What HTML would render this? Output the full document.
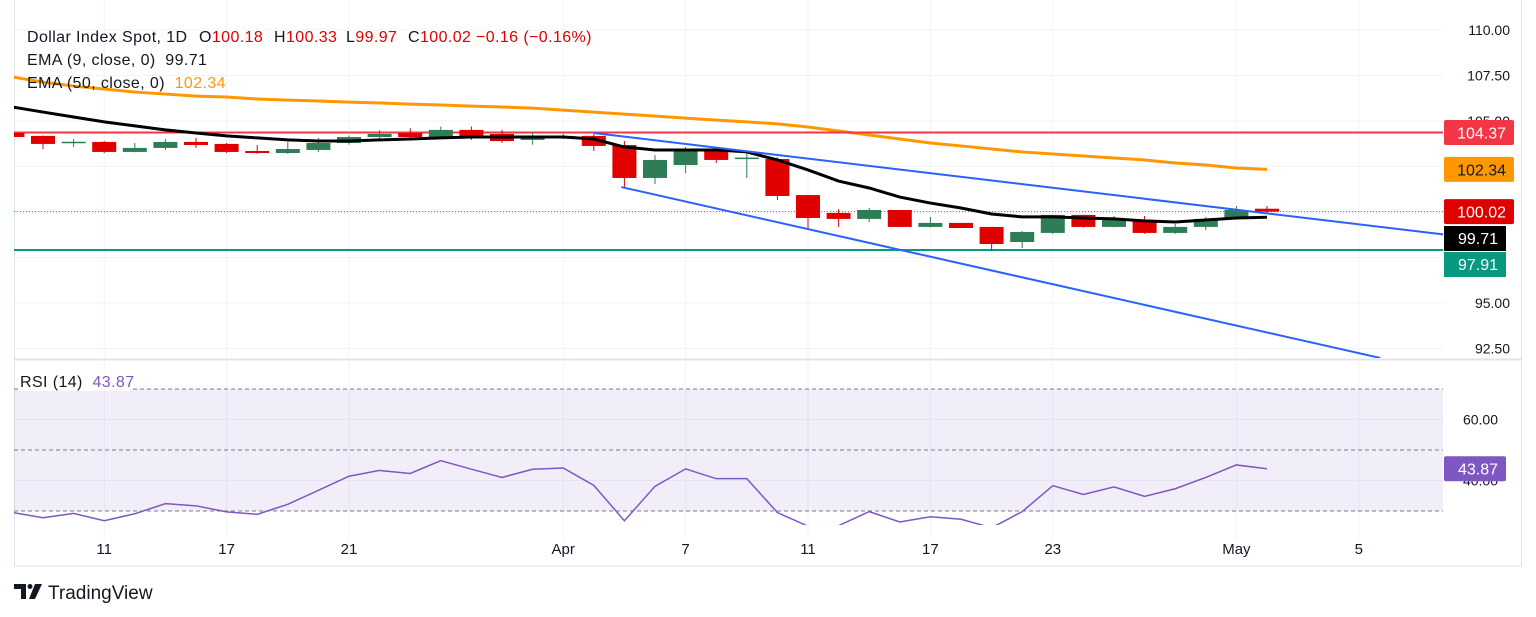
<!DOCTYPE html>
<html><head><meta charset="utf-8"><style>
html,body{margin:0;padding:0;background:#fff;width:1536px;height:617px;overflow:hidden;font-family:"Liberation Sans",sans-serif;}
svg{position:absolute;left:0;top:0}
text{font-family:"Liberation Sans",sans-serif}
.lg{font-size:16px;letter-spacing:0.4px;white-space:pre}
</style></head><body>
<svg id="chart" width="1536" height="617" xmlns="http://www.w3.org/2000/svg"></svg>
<script>
const opens  =[104.34,104.18,103.84,103.85,103.30,103.52,103.85,103.74,103.35,103.24,103.41,103.79,104.12,104.34,104.12,104.51,104.29,103.96,104.12,104.18,103.68,101.87,102.58,103.46,102.95,102.91,100.93,99.95,99.62,100.11,99.18,99.40,99.18,98.35,98.85,99.84,99.18,99.56,98.85,99.18,99.62,100.18];
const highs  =[104.40,104.20,104.01,103.90,103.79,104.01,104.07,103.79,103.68,103.85,104.07,104.20,104.50,104.60,104.70,104.70,104.51,104.40,104.30,104.30,103.90,103.13,103.57,103.50,103.24,103.00,100.95,100.16,100.22,100.11,99.73,99.40,99.18,98.95,99.84,99.85,99.78,99.78,99.34,99.73,100.33,100.33];
const lows   =[104.10,103.46,103.57,103.24,103.28,103.41,103.52,103.24,103.20,103.19,103.30,103.70,103.90,103.95,104.00,103.96,103.80,103.70,104.00,103.35,101.32,101.54,102.14,102.69,101.87,100.66,99.01,99.18,99.45,99.18,99.15,99.12,97.86,98.02,98.79,99.15,99.15,98.80,98.80,99.00,99.60,99.97];
const closes =[104.12,103.74,103.86,103.30,103.52,103.85,103.68,103.30,103.24,103.46,103.79,104.12,104.29,104.12,104.51,104.18,103.90,104.18,104.18,103.63,101.87,102.86,103.46,102.86,102.99,100.88,99.67,99.62,100.11,99.18,99.40,99.12,98.24,98.90,99.84,99.18,99.56,98.85,99.18,99.62,100.11,100.02];
const ema9   =[105.77,105.49,105.22,104.95,104.73,104.51,104.34,104.18,104.07,103.96,103.90,103.90,103.96,104.01,104.07,104.12,104.12,104.12,104.12,104.01,103.57,103.41,103.41,103.41,103.30,102.86,102.31,101.70,101.32,100.82,100.49,100.22,99.89,99.73,99.73,99.67,99.62,99.51,99.45,99.56,99.67,99.71];
const ema50  =[107.42,107.14,106.92,106.76,106.59,106.48,106.37,106.32,106.21,106.15,106.10,106.04,105.99,105.93,105.88,105.82,105.77,105.71,105.60,105.49,105.38,105.27,105.16,105.05,104.95,104.84,104.67,104.45,104.23,104.01,103.79,103.63,103.46,103.30,103.19,103.08,102.97,102.86,102.69,102.58,102.42,102.34];
const rsi    =[29.5,27.8,29.2,26.8,29.1,32.4,31.7,29.7,28.9,32.2,36.8,41.4,43.3,42.3,46.5,43.7,41.0,43.7,44.1,38.4,26.8,38.1,43.8,40.6,40.6,29.5,25.0,25.2,29.8,26.4,28.1,27.3,24.5,29.8,38.3,35.4,37.9,34.8,37.3,41.0,45.1,43.87];
const priceTicks=[110,107.5,105,95,92.5];
const priceTickLabels=["110.00","107.50","105.00","95.00","92.50"];
const rsiTicks=[60,40];
const rsiTickLabels=["60.00","40.00"];
const dateIdx=[3,7,11,18,22,26,30,34,40,44];
const dateLabels=["11","17","21","Apr","7","11","17","23","May","5"];
const upperChannel=[[19,104.34],[49.1,98.30]];
const lowerChannel=[[19.9,101.37],[44.7,91.98]];
const resistance=104.37, support=97.91, lastClose=100.02;

const svg=document.getElementById('chart');
const NS='http://www.w3.org/2000/svg';
function mk(tag,attrs,parent){const e=document.createElementNS(NS,tag);for(const k in attrs)e.setAttribute(k,attrs[k]);(parent||svg).appendChild(e);return e;}
const X=i=>12.4+30.6*i;
const Y=v=>30+(110-v)*18.2;
const RY=v=>450-(v-50)*3.05;
const PL=14,PR=1443;

const defs=mk('defs',{});
const c1=mk('clipPath',{id:'mainclip'},defs);mk('rect',{x:PL,y:0,width:PR-PL,height:358},c1);
const c2=mk('clipPath',{id:'rsiclip'},defs);mk('rect',{x:PL,y:361,width:PR-PL,height:164},c2);

let e=mk('rect',{x:14.5,y:-1,width:1507,height:567,fill:'none',stroke:'#e0e3eb'});

e=mk('line',{x1:14,x2:1522,y1:359.5,y2:359.5,stroke:'#e0e3eb','stroke-width':2});


const grid=mk('g',{stroke:'#f0f3fa'});

dateIdx.forEach(i=>{mk('line',{x1:X(i),x2:X(i),y1:0,y2:358},grid);mk('line',{x1:X(i),x2:X(i),y1:361,y2:540},grid);});
[110,107.5,105,102.5,100,97.5,95,92.5].forEach(v=>mk('line',{x1:PL,x2:PR,y1:Y(v),y2:Y(v)},grid));
[60,40].forEach(v=>mk('line',{x1:PL,x2:PR,y1:RY(v),y2:RY(v)},grid));

const main=mk('g',{'clip-path':'url(#mainclip)'});

e=mk('polyline',{points:ema50.map((v,i)=>X(i)+','+Y(v)).join(' '),fill:'none',stroke:'#ff9800','stroke-width':3},main);

e=mk('line',{x1:PL,x2:PR,y1:Y(resistance),y2:Y(resistance),stroke:'#f23645','stroke-width':2},main);

e=mk('line',{x1:PL,x2:PR,y1:Y(support),y2:Y(support),stroke:'#089981','stroke-width':2},main);

e=mk('line',{x1:PL,x2:PR,y1:Y(lastClose),y2:Y(lastClose),stroke:'#e53935','stroke-width':1,'stroke-dasharray':'1 2'},main);

opens.forEach((o,i)=>{
  const c=closes[i],up=c>=o,col=up?'#2e7d57':'#e00000';
  const g=mk('g',{},main);
  
  mk('line',{x1:X(i),x2:X(i),y1:Y(highs[i]),y2:Y(lows[i]),stroke:col,'stroke-width':1},g);
  const t=Y(Math.max(o,c)),b=Y(Math.min(o,c));
  mk('rect',{x:X(i)-12,y:t,width:24,height:Math.max(1.5,b-t),fill:col},g);
});
e=mk('polyline',{points:ema9.map((v,i)=>X(i)+','+Y(v)).join(' '),fill:'none',stroke:'#000','stroke-width':3},main);

e=mk('line',{x1:X(upperChannel[0][0]),y1:Y(upperChannel[0][1]),x2:X(upperChannel[1][0]),y2:Y(upperChannel[1][1]),stroke:'#2962ff','stroke-width':2},main);

e=mk('line',{x1:X(lowerChannel[0][0]),y1:Y(lowerChannel[0][1]),x2:X(lowerChannel[1][0]),y2:Y(lowerChannel[1][1]),stroke:'#2962ff','stroke-width':2},main);


priceTicks.forEach((v,k)=>{const t=mk('text',{x:1510,y:Y(v)+5,'text-anchor':'end','font-size':14,fill:'#131722'});t.textContent=priceTickLabels[k];
});
function tag(v,txt,bg,fg,w,name){const g=mk('g',{});
  mk('rect',{x:1444,y:Y(v)-12.5,width:w,height:25,rx:2,fill:bg},g);
  const t=mk('text',{x:1444+w-8,y:Y(v)+6,'text-anchor':'end','font-size':16,fill:fg},g);t.textContent=txt;}
tag(104.37,'104.37','#f23645','#fff',70,'resistance-price-tag');
tag(102.34,'102.34','#ff9800','#131722',70,'ema50-price-tag');
tag(lastClose,'100.02','#e00000','#fff',70,'last-price-tag');
(function(){let g=mk('g',{});
 mk('rect',{x:1444,y:226,width:62,height:25,fill:'#000'},g);let t=mk('text',{x:1498,y:244,'text-anchor':'end','font-size':16,fill:'#fff'},g);t.textContent='99.71';
 g=mk('g',{});
 mk('rect',{x:1444,y:252,width:62,height:25,fill:'#089981'},g);t=mk('text',{x:1498,y:270,'text-anchor':'end','font-size':16,fill:'#fff'},g);t.textContent='97.91';})();

// legend
const leg=mk('text',{x:27,y:42,fill:'#131722','class':'lg'});

leg.innerHTML='<tspan x="27">Dollar Index Spot, 1D</tspan><tspan x="199">O<tspan fill="#e00000">100.18</tspan></tspan><tspan x="274">H<tspan fill="#e00000">100.33</tspan></tspan><tspan x="346">L<tspan fill="#e00000">99.97</tspan></tspan><tspan x="408">C<tspan fill="#e00000">100.02</tspan></tspan><tspan x="476" fill="#e00000">−0.16 (−0.16%)</tspan>';
e=mk('text',{x:27,y:65,fill:'#131722','class':'lg'});e.textContent='EMA (9, close, 0)  99.71';

e=mk('text',{x:27,y:88,fill:'#131722','class':'lg'});e.innerHTML='EMA (50, close, 0)  <tspan fill="#ff9800">102.34</tspan>';


// RSI pane
const rp=mk('g',{'clip-path':'url(#rsiclip)'});

e=mk('rect',{x:PL,y:RY(70),width:PR-PL,height:RY(30)-RY(70),fill:'#7e57c2','fill-opacity':0.1},rp);

[70,50,30].forEach(v=>{const l=mk('line',{x1:PL,x2:PR,y1:RY(v),y2:RY(v),stroke:'#787b86','stroke-dasharray':'4 3'},rp);
 });
e=mk('polyline',{points:rsi.map((v,i)=>X(i)+','+RY(v)).join(' '),fill:'none',stroke:'#7e57c2','stroke-width':1.5},rp);

e=mk('rect',{x:18,y:372,width:112,height:19,fill:'#fff'});

e=mk('text',{x:20,y:387,fill:'#131722','class':'lg'});e.innerHTML='RSI (14)  <tspan fill="#7e57c2">43.87</tspan>';

rsiTicks.forEach((v,k)=>{const t=mk('text',{x:1498,y:RY(v)+5,'text-anchor':'end','font-size':14,fill:'#131722'});t.textContent=rsiTickLabels[k];
 });
(function(){const g=mk('g',{});
 const v=rsi[rsi.length-1];mk('rect',{x:1444,y:RY(v)-12.5,width:62,height:25,rx:2,fill:'#7e57c2'},g);
 const t=mk('text',{x:1498,y:RY(v)+6,'text-anchor':'end','font-size':16,fill:'#fff'},g);t.textContent=v.toFixed(2);})();

dateIdx.forEach((i,k)=>{const t=mk('text',{x:X(i),y:554,'text-anchor':'middle','font-size':15,fill:'#131722'});t.textContent=dateLabels[k];
 });

const lg=mk('g',{});
mk('path',{d:'M14 584 h12 v15 h-5 v-10 h-7z',fill:'#131722'},lg);
mk('circle',{cx:30,cy:586.5,r:2.5,fill:'#131722'},lg);
mk('path',{d:'M35 584 h7 l-7 15 h-6z',fill:'#131722'},lg);
const lt=mk('text',{x:48,y:599,'font-size':19,fill:'#131722'},lg);lt.textContent='TradingView';
</script>
</body></html>
